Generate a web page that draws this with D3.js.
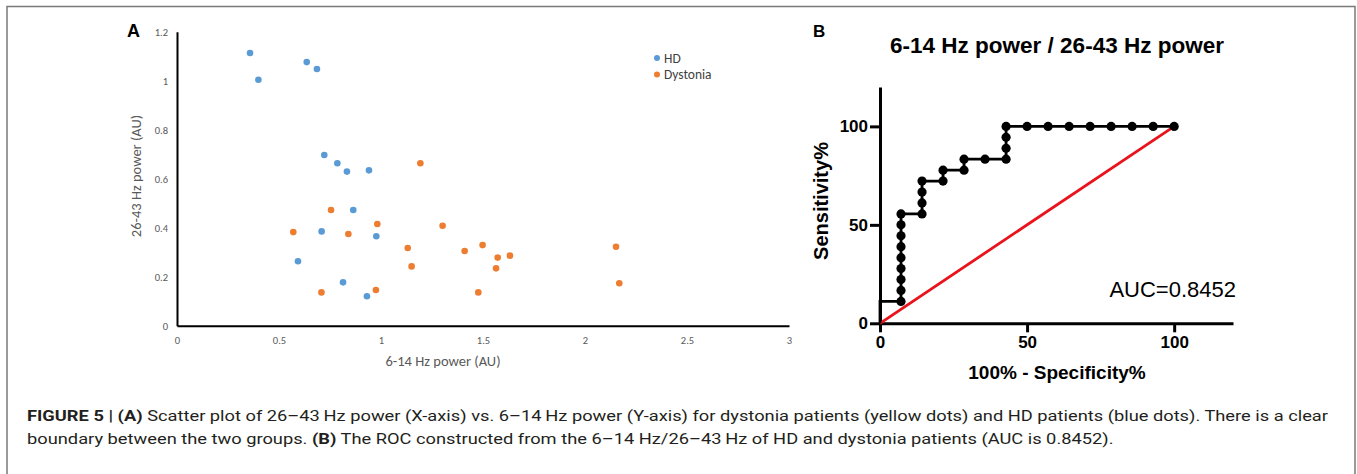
<!DOCTYPE html>
<html>
<head>
<meta charset="utf-8">
<script src="https://cdn.jsdelivr.net/npm/d3@7"></script>
<style>
  body { margin: 0; background: #fff; }
  svg { display: block; }
</style>
</head>
<body>
<script>
// panel A: 6-14 Hz power (x) vs 26-43 Hz power (y)
var hdX = [0.358, 0.399, 0.636, 0.686, 0.722, 0.786, 0.833, 0.941, 0.864, 0.709, 0.977, 0.593, 0.814, 0.931];
var hdY = [1.113, 1.004, 1.076, 1.048, 0.697, 0.663, 0.629, 0.634, 0.472, 0.385, 0.365, 0.263, 0.177, 0.120];
var dysX = [0.570, 0.755, 0.840, 0.982, 0.708, 0.975, 1.131, 1.150, 1.193, 1.302, 1.410, 1.498, 1.477, 1.564, 1.572, 1.632, 2.152, 2.168];
var dysY = [0.382, 0.472, 0.374, 0.415, 0.136, 0.146, 0.317, 0.242, 0.663, 0.408, 0.305, 0.329, 0.136, 0.234, 0.278, 0.286, 0.322, 0.173];
var xTicksA = [0, 0.5, 1, 1.5, 2, 2.5, 3];
var yTicksA = [0, 0.2, 0.4, 0.6, 0.8, 1, 1.2];
var groups = ["HD", "Dystonia"];

// panel B: ROC curve (100% - specificity%, sensitivity%)
var rocX = [0, 0, 7.143, 7.143, 7.143, 7.143, 7.143, 7.143, 7.143, 7.143, 7.143,
            14.29, 14.29, 14.29, 14.29, 21.43, 21.43, 28.57, 28.57, 35.71,
            42.86, 42.86, 42.86, 42.86, 50, 57.14, 64.29, 71.43, 78.57, 85.71, 92.86, 100];
var rocY = [0, 11.11, 11.11, 16.67, 22.22, 27.78, 33.33, 38.89, 44.44, 50, 55.56,
            55.56, 61.11, 66.67, 72.22, 72.22, 77.78, 77.78, 83.33, 83.33,
            83.33, 88.89, 94.44, 100, 100, 100, 100, 100, 100, 100, 100, 100];
var chanceX = [0, 100];
var chanceY = [0, 100];
var ticksB = [0, 50, 100];
var auc = "0.8452";

var svg = d3.select("body").append("svg")
  .attr("width", 1357)
  .attr("height", 474);

// figure frame
svg.append("path")
  .attr("d", "M7,480V6.5H1355V480")
  .attr("fill", "none")
  .attr("stroke", "#7a7a7a")
  .attr("stroke-width", 1.5);

// ---------- panel A ----------
var xA = d3.scaleLinear().domain([0, 3]).range([177, 789]);
var yA = d3.scaleLinear().domain([0, 1.2]).range([325.7, 31.7]);
var colorA = d3.scaleOrdinal().domain(groups).range(["#5b9bd5", "#ed7d31"]);
var smallFont = "Carlito, Calibri, Lato, sans-serif";

var gxA = svg.append("g")
  .attr("transform", "translate(0," + yA(0) + ")")
  .call(d3.axisBottom(xA).tickValues(xTicksA).tickSize(0).tickPadding(11).tickFormat(d3.format("")));
var gyA = svg.append("g")
  .attr("transform", "translate(" + xA(0) + ",0)")
  .call(d3.axisLeft(yA).tickValues(yTicksA).tickSize(0).tickPadding(9).tickFormat(d3.format("")));
[gxA, gyA].forEach(function(g) {
  g.select(".domain").attr("stroke", "#000").attr("stroke-width", 2);
  g.selectAll("text").attr("font-family", smallFont).attr("font-size", 10.5).attr("fill", "#595959");
});

svg.append("text")
  .attr("x", 443).attr("y", 366)
  .attr("text-anchor", "middle")
  .attr("font-family", smallFont).attr("font-size", 14.5).attr("fill", "#595959")
  .text("6-14 Hz power (AU)");
svg.append("text")
  .attr("transform", "translate(141,176) rotate(-90)")
  .attr("text-anchor", "middle")
  .attr("font-family", smallFont).attr("font-size", 14.5).attr("fill", "#595959")
  .text("26-43 Hz power (AU)");

svg.append("g").selectAll("circle")
  .data(dysX.map(function(d, i) { return { x: d, y: dysY[i] }; }))
  .enter().append("circle")
  .attr("cx", function(d) { return xA(d.x); })
  .attr("cy", function(d) { return yA(d.y); })
  .attr("r", 3.3)
  .attr("fill", colorA("Dystonia"));
svg.append("g").selectAll("circle")
  .data(hdX.map(function(d, i) { return { x: d, y: hdY[i] }; }))
  .enter().append("circle")
  .attr("cx", function(d) { return xA(d.x); })
  .attr("cy", function(d) { return yA(d.y); })
  .attr("r", 3.3)
  .attr("fill", colorA("HD"));

// legend
var legend = svg.append("g").selectAll("g")
  .data(groups)
  .enter().append("g")
  .attr("transform", function(d, i) { return "translate(657," + (58 + i * 16.5) + ")"; });
legend.append("circle").attr("r", 3).attr("fill", function(d) { return colorA(d); });
legend.append("text")
  .attr("x", 7).attr("dy", "0.35em")
  .attr("font-family", smallFont).attr("font-size", 13.5).attr("fill", "#404040")
  .text(function(d) { return d; });

svg.append("text")
  .attr("x", 127).attr("y", 37)
  .attr("font-family", "Liberation Sans, Arial, sans-serif").attr("font-weight", "bold").attr("font-size", 18)
  .text("A");

// ---------- panel B ----------
var xB = d3.scaleLinear().domain([0, 120]).range([880, 1233]);
var yB = d3.scaleLinear().domain([0, 120]).range([323.3, 87]);
var boldFont = "Liberation Sans, Arial, sans-serif";

var gxB = svg.append("g")
  .attr("transform", "translate(0," + yB(0) + ")")
  .call(d3.axisBottom(xB).tickValues(ticksB).tickSize(9).tickSizeOuter(0).tickPadding(4));
var gyB = svg.append("g")
  .attr("transform", "translate(" + xB(0) + ",0)")
  .call(d3.axisLeft(yB).tickValues(ticksB).tickSize(10).tickSizeOuter(0).tickPadding(2));
[gxB, gyB].forEach(function(g) {
  g.select(".domain").attr("stroke", "#000").attr("stroke-width", 3);
  g.selectAll(".tick line").attr("stroke", "#000").attr("stroke-width", 3);
  g.selectAll("text").attr("font-family", boldFont).attr("font-weight", "bold").attr("font-size", 17).attr("fill", "#000");
});

svg.append("text")
  .attr("x", 1057).attr("y", 53)
  .attr("text-anchor", "middle")
  .attr("font-family", boldFont).attr("font-weight", "bold").attr("font-size", 22.5)
  .text("6-14 Hz power / 26-43 Hz power");
svg.append("text")
  .attr("x", 813).attr("y", 37)
  .attr("font-family", boldFont).attr("font-weight", "bold").attr("font-size", 17)
  .text("B");
svg.append("text")
  .attr("x", 1057).attr("y", 379)
  .attr("text-anchor", "middle")
  .attr("font-family", boldFont).attr("font-weight", "bold").attr("font-size", 19)
  .text("100% - Specificity%");
svg.append("text")
  .attr("transform", "translate(828,201) rotate(-90)")
  .attr("text-anchor", "middle")
  .attr("font-family", boldFont).attr("font-weight", "bold").attr("font-size", 20)
  .text("Sensitivity%");

var line = d3.line()
  .x(function(d) { return xB(d[0]); })
  .y(function(d) { return yB(d[1]); });

svg.append("path")
  .datum(chanceX.map(function(d, i) { return [d, chanceY[i]]; }))
  .attr("d", line)
  .attr("fill", "none")
  .attr("stroke", "#e8131b")
  .attr("stroke-width", 2.8);

var roc = rocX.map(function(d, i) { return [d, rocY[i]]; });
svg.append("path")
  .datum(roc)
  .attr("d", line)
  .attr("fill", "none")
  .attr("stroke", "#000")
  .attr("stroke-width", 2.8);
svg.append("g").selectAll("circle")
  .data(roc.filter(function(d) { return d[0] > 0; }))
  .enter().append("circle")
  .attr("cx", function(d) { return xB(d[0]); })
  .attr("cy", function(d) { return yB(d[1]); })
  .attr("r", 4.6)
  .attr("fill", "#000");

svg.append("text")
  .attr("x", 1236).attr("y", 297)
  .attr("text-anchor", "end")
  .attr("font-family", boldFont).attr("font-size", 22)
  .text("AUC=" + auc);

// ---------- caption ----------
var captionLines = [
  [["FIGURE 5 | (A)", true], [" Scatter plot of 26\u201343\u2009Hz power (X-axis) vs. 6\u201314\u2009Hz power (Y-axis) for dystonia patients (yellow dots) and HD patients (blue dots). There is a clear", false]],
  [["boundary between the two groups. ", false], ["(B)", true], [" The ROC constructed from the 6\u201314 Hz/26\u201343\u2009Hz of HD and dystonia patients (AUC is 0.8452).", false]]
];
var capTexts = captionLines.map(function(parts, i) {
  var t = svg.append("text")
    .attr("x", 27).attr("y", 421 + i * 22.5)
    .attr("font-family", "Roboto, sans-serif").attr("font-size", 14.5).attr("fill", "#231f20");
  parts.forEach(function(p) {
    t.append("tspan").attr("font-weight", p[1] ? "bold" : null).text(p[0]);
  });
  return t;
});
var k = 1301 / capTexts[0].node().getComputedTextLength();
capTexts.forEach(function(t) {
  t.attr("textLength", t.node().getComputedTextLength() * k).attr("lengthAdjust", "spacingAndGlyphs");
});
</script>
</body>
</html>
